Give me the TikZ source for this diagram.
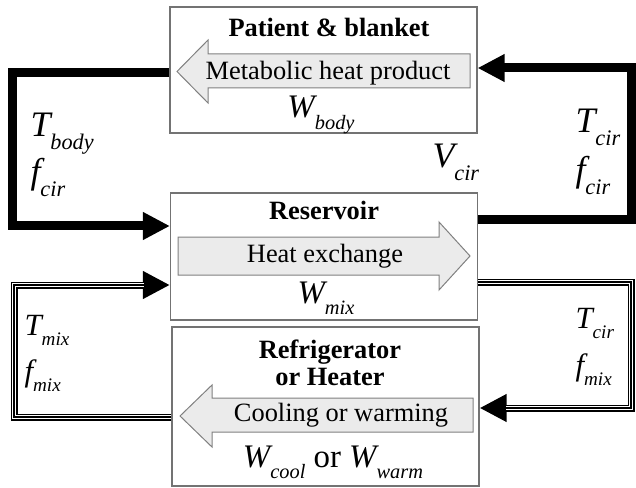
\documentclass[tikz,border=0pt]{standalone}
\usepackage{fontspec}
\setmainfont{LiberationSerif}[Extension=.ttf,UprightFont=*-Regular,
  ItalicFont=*-Italic,BoldFont=*-Bold,BoldItalicFont=*-BoldItalic]
\usetikzlibrary{arrows.meta}

\makeatletter
\newcommand{\quant}[2]{{\itshape #1\raisebox{-0.34em}{\fontsize{\fpeval{0.62*\f@size}}{1}\selectfont #2}}}
\makeatother

\begin{document}
\begin{tikzpicture}[x=1bp,y=-1bp,line join=miter,
    box/.style={draw=black!55,line width=1.1bp,inner sep=0pt,minimum width=307bp},
    fatarrow/.style={fill=black!8,draw=black!50,line width=1bp},
    title/.style={anchor=base,font=\fontsize{26.5}{30}\selectfont\bfseries},
    label/.style={anchor=base,font=\fontsize{26.5}{30}\selectfont},
    big var/.style={anchor=base west,font=\fontsize{36}{40}\selectfont},
    var/.style={anchor=base west,font=\fontsize{31}{34}\selectfont},
    flow/.style={line width=9bp,-{Triangle[length=27bp,width=26bp]}},
    tripleline/.style={line width=7bp,-{Triangle[length=27bp,width=26bp]},
      postaction={draw=white,line width=4.6bp,shorten >=26bp,-},
      postaction={draw=black,line width=1.2bp,shorten >=26bp,-}}]
  \useasboundingbox (0,0) rectangle (636,488);

  \node[box,minimum height=126bp] (patient) at (323.5,70) {};
  \node[box,minimum height=127bp] (reservoir) at (324,256.5) {};
  \node[box,minimum height=159bp] (fridge) at (325.5,406.5) {};

  \draw[fatarrow] (177,71.5) -- (208,40) -- (208,54) -- (470,54) -- (470,88)
    -- (208,88) -- (208,103) -- cycle;
  \draw[fatarrow] (470,256) -- (439,222) -- (439,237) -- (178,237) -- (178,275)
    -- (439,275) -- (439,290) -- cycle;
  \draw[fatarrow] (180,416) -- (212,385) -- (212,398) -- (473,398) -- (473,432)
    -- (212,432) -- (212,447) -- cycle;

  \node[title] (patienttxt) at (329,37) {Patient \& blanket};
  \node[label] (metabolic) at (328,80) {Metabolic heat product};
  \node[anchor=base,font=\fontsize{33}{36}\selectfont] (wbody) at (321,118) {\quant{W}{body}};

  \node[title] (reservoirtxt) at (324,220) {Reservoir};
  \node[label] (exchange) at (325,262) {Heat exchange};
  \node[anchor=base,font=\fontsize{33}{36}\selectfont] (wmix) at (326,303) {\quant{W}{mix}};

  \node[title] (fridgetxt) at (330,358) {Refrigerator};
  \node[title] (heatertxt) at (330,385) {or Heater};
  \node[label] (cooling) at (341,421) {Cooling or warming};
  \node[anchor=base,font=\fontsize{33}{36}\selectfont] (wcool) at (333,467)
    {\quant{W}{cool} or \quant{W}{warm}};

  \draw[flow] (patient.west |- 0,73) -- (12,73) |- (reservoir.west |- 0,226);
  \draw[flow] (reservoir.east |- 0,220) -- (631,220) |- (patient.east |- 0,68);
  \draw[tripleline] (fridge.west |- 0,417) -- (14,417) |- (reservoir.west |- 0,285);
  \draw[tripleline] (reservoir.east |- 0,282) -- (631,282) |- (fridge.east |- 0,408);

  \node[big var] (tbody) at (27,137) {\quant{T}{body}};
  \node[big var] (fcirl) at (27,184) {\quant{f}{cir}};
  \node[big var] (tcir) at (572,133) {\quant{T}{cir}};
  \node[big var] (fcirr) at (572,182) {\quant{f}{cir}};
  \node[big var] (vcir) at (429,168) {\quant{V}{cir}};
  \node[var] (tmix) at (21,335) {\quant{T}{mix}};
  \node[var] (fmixl) at (21,381) {\quant{f}{mix}};
  \node[var] (tcirl) at (572,328) {\quant{T}{cir}};
  \node[var] (fmixr) at (572,375) {\quant{f}{mix}};
\end{tikzpicture}
\end{document}
